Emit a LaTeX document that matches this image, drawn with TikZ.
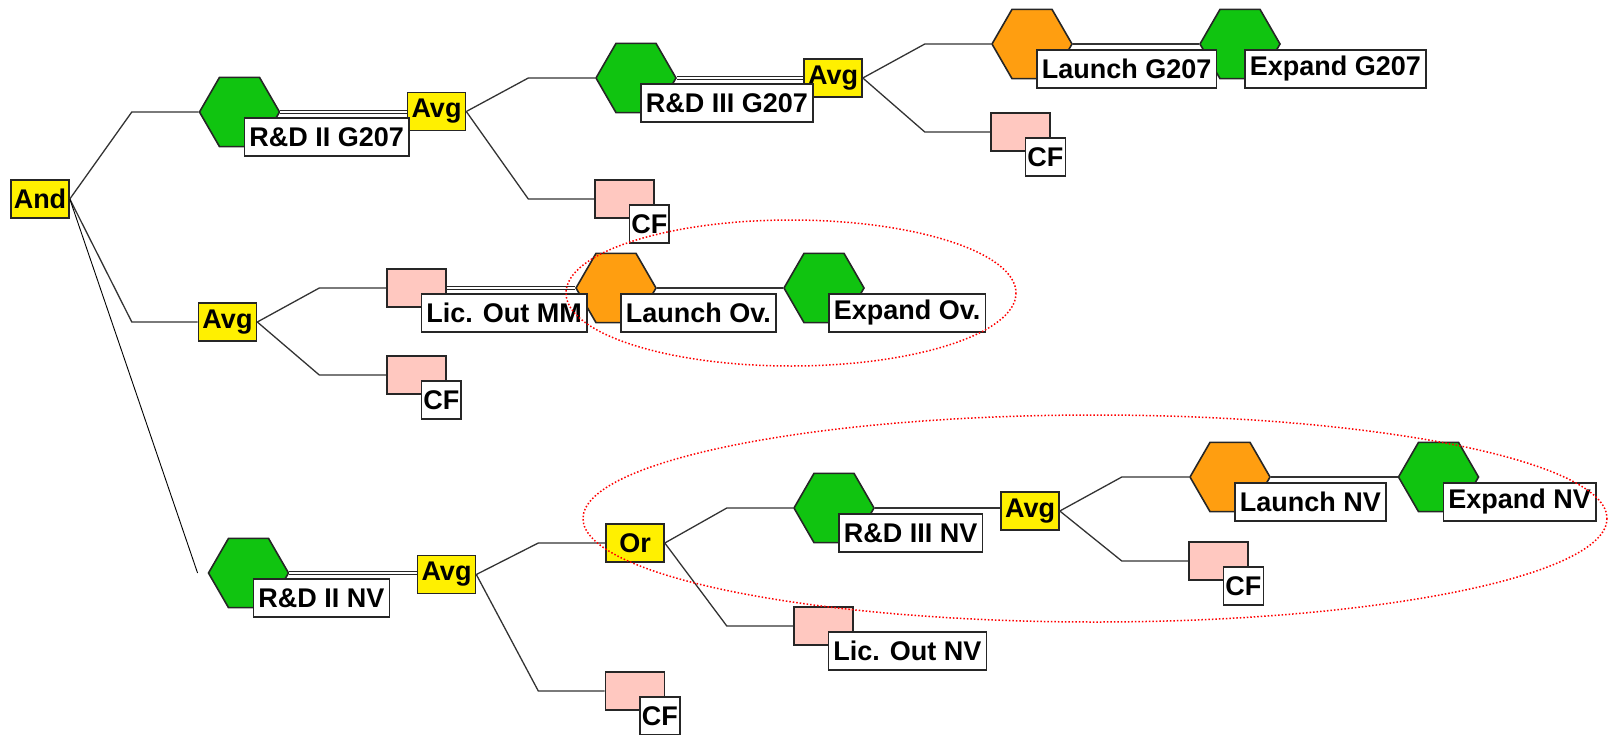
\documentclass[tikz,border=0pt]{standalone}
\usepackage{fontspec}
\setmainfont{Liberation Sans}
\usetikzlibrary{shapes.geometric}

\definecolor{hexgreen}{RGB}{16,196,16}
\definecolor{hexorange}{RGB}{255,158,16}
\definecolor{gateyellow}{RGB}{255,240,0}
\definecolor{cfpink}{RGB}{255,200,192}

\tikzset{
  every node/.style={font=\fontsize{27}{31}\selectfont\bfseries},
  gate/.style={draw=black!85, line width=1.6pt, fill=gateyellow, minimum width=58pt, minimum height=38pt, inner sep=0pt},
  hexa/.style={draw=black!85, line width=1.6pt, regular polygon, regular polygon sides=6, minimum size=80pt, inner sep=0pt},
  chance/.style={draw=black!85, line width=1.6pt, fill=cfpink, minimum width=59pt, minimum height=38pt, inner sep=0pt},
  tag/.style={draw=black!85, line width=1.6pt, fill=white, anchor=north west, minimum height=38pt, inner xsep=5pt, inner ysep=0pt},
  cftag/.style={tag, inner xsep=2pt},
  link/.style={line width=1.3pt, black!80},
  twin/.style={line width=1.1pt, black!85, double, double distance=1.3pt},
  branch/.style={to path={-- ([xshift=62pt]\tikztostart |- \tikztotarget) -- (\tikztotarget)}},
  ring/.style={red, line width=1.5pt, dash pattern=on 1.5pt off 2pt}
}

\begin{document}
\begin{tikzpicture}[x=1pt, y=-1pt]
\useasboundingbox (0,0) rectangle (1614,734);

\node[gate] (and) at (40,199) {And};
\node[gate] (avgA) at (436.5,111.5) {Avg};
\node[gate] (avgB) at (833,78) {Avg};
\node[gate] (avgC) at (227.5,322) {Avg};
\node[gate] (avgD) at (446.5,574.5) {Avg};
\node[gate] (orA) at (635,543) {Or};
\node[gate] (avgE) at (1030,511) {Avg};

\node[hexa, fill=hexgreen] (rdG2) at (239.5,112) {};
\node[hexa, fill=hexgreen] (rdG3) at (636,78) {};
\node[hexa, fill=hexorange] (lnG) at (1032,44) {};
\node[hexa, fill=hexgreen] (exG) at (1240,44) {};
\node[hexa, fill=hexorange] (lnOv) at (616,288) {};
\node[hexa, fill=hexgreen] (exOv) at (824,288) {};
\node[hexa, fill=hexgreen] (rdN2) at (248.5,573) {};
\node[hexa, fill=hexgreen] (rdN3) at (834,508) {};
\node[hexa, fill=hexorange] (lnN) at (1230,477) {};
\node[hexa, fill=hexgreen] (exN) at (1438.5,477) {};

\node[chance] (cfA) at (624.5,199) {};
\node[chance] (cfB) at (1020.5,132) {};
\node[chance] (licMM) at (416.5,288) {};
\node[chance] (cfC) at (416.5,375) {};
\node[chance] (cfD) at (635,691) {};
\node[chance] (licNV) at (823.5,626) {};
\node[chance] (cfE) at (1218.5,561) {};

\coordinate (stub) at ([xshift=-10pt]rdN2.west);

% first level
\draw[link] (and.east) to[branch] (rdG2.west);
\draw[link] (and.east) to[branch] (avgC.west);
\draw[line width=0.9pt] (and.east) -- (stub);

% G207 chain
\draw[twin] (rdG2.east) -- (rdG2.east -| avgA.west);
\draw[link] (avgA.east) to[branch] (rdG3.west);
\draw[link] (avgA.east) to[branch] (cfA.west);
\draw[twin] (rdG3.east) -- (rdG3.east -| avgB.west);
\draw[link] (avgB.east) to[branch] (lnG.west);
\draw[link] (avgB.east) to[branch] (cfB.west);
\draw[link] (lnG.east) -- (exG.west);

% Ov. chain
\draw[link] (avgC.east) to[branch] (licMM.west);
\draw[link] (avgC.east) to[branch] (cfC.west);
\draw[twin] (licMM.east) -- (licMM.east -| lnOv.west);
\draw[link] (lnOv.east) -- (exOv.west);

% NV chain
\draw[twin] (rdN2.east) -- (rdN2.east -| avgD.west);
\draw[link] (avgD.east) to[branch] (orA.west);
\draw[link] (avgD.east) to[branch] (cfD.west);
\draw[link] (orA.east) to[branch] (rdN3.west);
\draw[link] (orA.east) to[branch] (licNV.west);
\draw[link] (rdN3.east) -- (rdN3.east -| avgE.west);
\draw[link] (avgE.east) to[branch] (lnN.west);
\draw[link] (avgE.east) to[branch] (cfE.west);
\draw[link] (lnN.east) -- (exN.west);

% name tags
\node[tag] (rdG2-t) at ([xshift=4pt,yshift=-5pt]rdG2.center) {R\&D II G207};
\node[tag] (rdG3-t) at ([xshift=4pt,yshift=-5pt]rdG3.center) {R\&D III G207};
\node[tag] (lnG-t) at ([xshift=4pt,yshift=-5pt]lnG.center) {Launch G207};
\node[tag] (exG-t) at ([xshift=4pt,yshift=-5pt]exG.center) {Expand G207};
\node[cftag] (cfA-t) at ([xshift=4pt,yshift=-5pt]cfA.center) {CF};
\node[cftag] (cfB-t) at ([xshift=4pt,yshift=-5pt]cfB.center) {CF};
\node[tag] (licMM-t) at ([xshift=4pt,yshift=-5pt]licMM.center) {Lic. Out MM};
\node[tag] (lnOv-t) at ([xshift=4pt,yshift=-5pt]lnOv.center) {Launch Ov.};
\node[tag] (exOv-t) at ([xshift=4pt,yshift=-5pt]exOv.center) {Expand Ov.};
\node[cftag] (cfC-t) at ([xshift=4pt,yshift=-5pt]cfC.center) {CF};
\node[tag] (rdN2-t) at ([xshift=4pt,yshift=-5pt]rdN2.center) {R\&D II NV};
\node[cftag] (cfD-t) at ([xshift=4pt,yshift=-5pt]cfD.center) {CF};
\node[tag] (rdN3-t) at ([xshift=4pt,yshift=-5pt]rdN3.center) {R\&D III NV};
\node[tag] (licNV-t) at ([xshift=4pt,yshift=-5pt]licNV.center) {Lic. Out NV};
\node[tag] (lnN-t) at ([xshift=4pt,yshift=-5pt]lnN.center) {Launch NV};
\node[tag] (exN-t) at ([xshift=4pt,yshift=-5pt]exN.center) {Expand NV};
\node[cftag] (cfE-t) at ([xshift=4pt,yshift=-5pt]cfE.center) {CF};

\draw[ring] (791,293) ellipse [x radius=225, y radius=73];
\draw[ring] (1095,518.5) ellipse [x radius=512, y radius=103.5];

\end{tikzpicture}
\end{document}
